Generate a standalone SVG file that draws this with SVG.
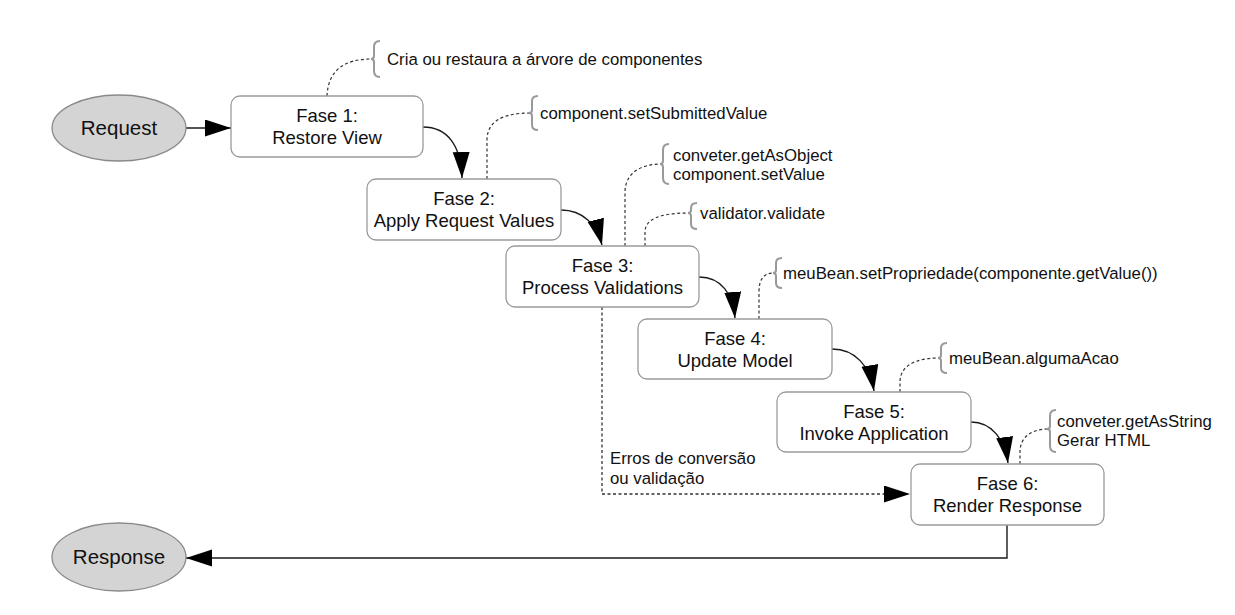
<svg xmlns="http://www.w3.org/2000/svg" width="1235" height="615" viewBox="0 0 1235 615">
<defs>
<marker id="ah" markerUnits="userSpaceOnUse" markerWidth="27" markerHeight="18" refX="26" refY="8.5" orient="auto">
<path d="M0,0 L26,8.5 L0,17 Z" fill="#000"/>
</marker>
<style>
.box{fill:#fff;stroke:#9a9a9a;stroke-width:1.3}
.term{fill:#d4d4d4;stroke:#8a8a8a;stroke-width:1.3}
.t{font-family:"Liberation Sans",Arial,sans-serif;font-size:18.5px;fill:#111;text-anchor:middle}
.e{font-size:20.5px}
.a{font-family:"Liberation Sans",Arial,sans-serif;font-size:16.8px;fill:#111}
.flow{fill:none;stroke:#1a1a1a;stroke-width:1.4}
.err{fill:none;stroke:#333;stroke-width:1.3;stroke-dasharray:3,2.5}
.note{fill:none;stroke:#333;stroke-width:1.2;stroke-dasharray:3,2.5}
.br{fill:none;stroke:#999;stroke-width:2}
</style>
</defs>
<rect width="1235" height="615" fill="#fff"/>

<g id="connectors">
<path class="flow" d="M186,128 L231,128" marker-end="url(#ah)"/>
<path class="flow" d="M423,127 C447,127 461,145 462,178" marker-end="url(#ah)"/>
<path class="flow" d="M561,210 C583,210 597,225 602,245" marker-end="url(#ah)"/>
<path class="flow" d="M699,277 C722,277 733,295 735,318" marker-end="url(#ah)"/>
<path class="flow" d="M832,349 C855,349 870,366 874,391" marker-end="url(#ah)"/>
<path class="flow" d="M971,422 C992,422 1005,440 1008,463" marker-end="url(#ah)"/>
<path class="flow" d="M1007,525 L1007,558 L186,558" marker-end="url(#ah)"/>
<path class="err" d="M602,307 L602,494 L910,494" marker-end="url(#ah)"/>
<path class="note" d="M327,96 C328,70 345,59 371,59"/>
<path class="note" d="M487,179 L487,140 C487,122 502,113 530,113"/>
<path class="note" d="M625,246 L625,192 C625,174 640,164 661,164"/>
<path class="note" d="M645,246 L645,232 C645,219 660,213 689,213"/>
<path class="note" d="M759,319 L759,292 C759,280 763,273 774,273"/>
<path class="note" d="M900,392 L900,382 C900,366 915,358 939,358"/>
<path class="note" d="M1020,464 L1020,452 C1020,438 1030,429 1049,429"/>
</g>

<g id="request">
<ellipse class="term" cx="119" cy="128" rx="67" ry="33"/>
<text class="t e" x="119" y="135">Request</text>
</g>

<g id="response">
<ellipse class="term" cx="119" cy="557" rx="67" ry="34"/>
<text class="t e" x="119" y="564">Response</text>
</g>

<g id="fase1">
<rect class="box" x="231" y="96" width="192" height="61" rx="9"/>
<text class="t" x="327" y="122">Fase 1:</text>
<text class="t" x="327" y="144">Restore View</text>
</g>

<g id="fase2">
<rect class="box" x="367" y="179" width="194" height="61" rx="9"/>
<text class="t" x="464" y="205">Fase 2:</text>
<text class="t" x="464" y="227">Apply Request Values</text>
</g>

<g id="fase3">
<rect class="box" x="506" y="246" width="193" height="61" rx="9"/>
<text class="t" x="602.5" y="272">Fase 3:</text>
<text class="t" x="602.5" y="294">Process Validations</text>
</g>

<g id="fase4">
<rect class="box" x="638" y="319" width="194" height="60" rx="9"/>
<text class="t" x="735" y="344.5">Fase 4:</text>
<text class="t" x="735" y="366.5">Update Model</text>
</g>

<g id="fase5">
<rect class="box" x="777" y="392" width="194" height="60" rx="9"/>
<text class="t" x="874" y="417.5">Fase 5:</text>
<text class="t" x="874" y="439.5">Invoke Application</text>
</g>

<g id="fase6">
<rect class="box" x="911" y="464" width="193" height="61" rx="9"/>
<text class="t" x="1007.5" y="490">Fase 6:</text>
<text class="t" x="1007.5" y="512">Render Response</text>
</g>

<g id="note1">
<path class="br" d="M380,41 Q374,41 374,47 L374,56 Q374,59 371,59 Q374,59 374,62 L374,71 Q374,77 380,77"/>
<text class="a" x="387" y="65">Cria ou restaura a árvore de componentes</text>
</g>

<g id="note2">
<path class="br" d="M538,96 Q532,96 532,101 L532,110 Q532,113 529,113 Q532,113 532,116 L532,125 Q532,130 538,130"/>
<text class="a" x="540" y="119">component.setSubmittedValue</text>
</g>

<g id="note3a">
<path class="br" d="M669,144 Q663,144 663,150 L663,161 Q663,164 660,164 Q663,164 663,167 L663,178 Q663,184 669,184"/>
<text class="a" x="673" y="161">conveter.getAsObject</text>
<text class="a" x="673" y="180">component.setValue</text>
</g>

<g id="note3b">
<path class="br" d="M697,203 Q691,203 691,208 L691,210 Q691,213 688,213 Q691,213 691,216 L691,224 Q691,229 697,229"/>
<text class="a" x="700" y="219">validator.validate</text>
</g>

<g id="note4">
<path class="br" d="M782,258 Q776,258 776,263 L776,270 Q776,273 773,273 Q776,273 776,276 L776,283 Q776,288 782,288"/>
<text class="a" x="783" y="279">meuBean.setPropriedade(componente.getValue())</text>
</g>

<g id="note5">
<path class="br" d="M947,343 Q941,343 941,348 L941,355 Q941,358 938,358 Q941,358 941,361 L941,368 Q941,373 947,373"/>
<text class="a" x="949" y="364">meuBean.algumaAcao</text>
</g>

<g id="note6">
<path class="br" d="M1056,410 Q1050,410 1050,416 L1050,426 Q1050,429 1047,429 Q1050,429 1050,432 L1050,446 Q1050,452 1056,452"/>
<text class="a" x="1057" y="427">conveter.getAsString</text>
<text class="a" x="1057" y="446">Gerar HTML</text>
</g>

<g id="errlabel">
<text class="a" x="610" y="464">Erros de conversão</text>
<text class="a" x="610" y="484">ou validação</text>
</g>
</svg>
